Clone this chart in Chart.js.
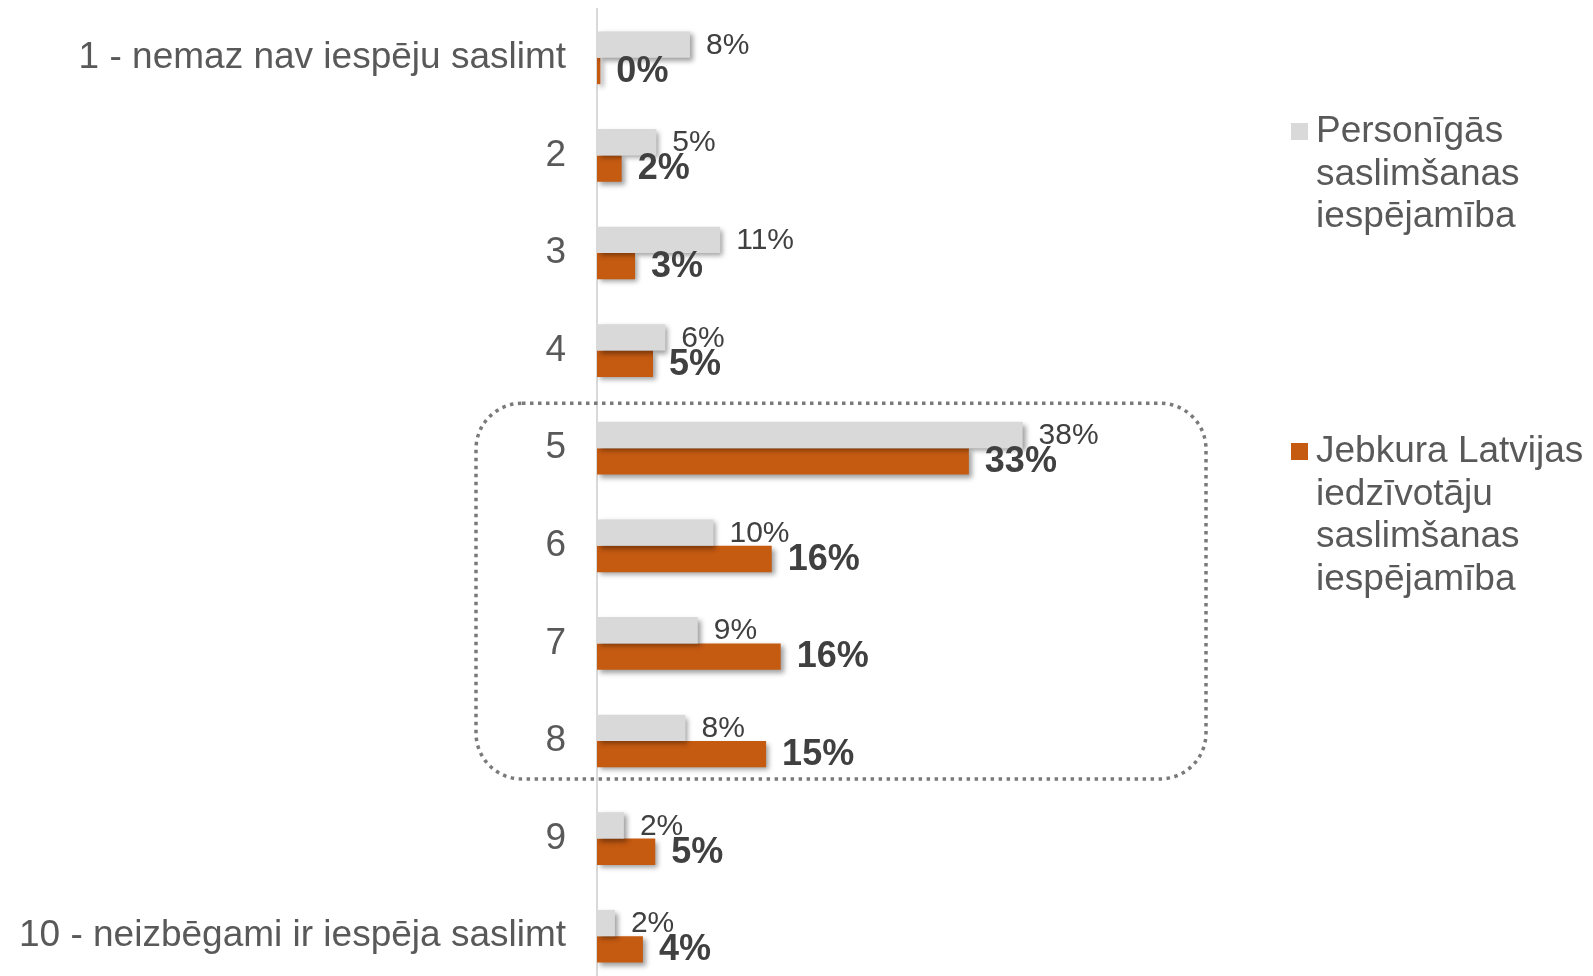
<!DOCTYPE html>
<html>
<head>
<meta charset="utf-8">
<script src="https://cdn.jsdelivr.net/npm/chart.js@4.4.1/dist/chart.umd.min.js"></script>
<style>
html,body{margin:0;padding:0;overflow:hidden;background:#ffffff;}
canvas{display:block;}
</style>
</head>
<body>
<canvas id="c" width="1593" height="990" style="width:1593px;height:990px"></canvas>
<script>
// ---------- data ----------
const categories = [
  '1 - nemaz nav iespēju saslimt', '2', '3', '4', '5', '6', '7', '8', '9',
  '10 - neizbēgami ir iespēja saslimt'
];
const personalValues   = [8.3, 5.3, 11.0, 6.1, 38.0, 10.4, 9.0, 7.9, 2.4, 1.6];
const populationValues = [0.3, 2.2, 3.4, 5.0, 33.2, 15.6, 16.4, 15.1, 5.2, 4.1];
const seriesNames = [
  'Personīgās saslimšanas iespējamība',
  'Jebkura Latvijas iedzīvotāju saslimšanas iespējamība'
];
const seriesColors = ['#d9d9d9', '#c55a11'];
const highlightFirst = 4;   // category "5"
const highlightLast  = 7;   // category "8"

// ---------- styling ----------
const FONT = '"Liberation Sans", Arial, Helvetica, sans-serif';
const AXIS_LEFT = 597;
const X_MAX = 55;
const PLOT_RIGHT = 1213;

const shadowPlugin = {
  id: 'barShadow',
  beforeDatasetsDraw(chart) {
    const c = chart.ctx;
    c.save();
    c.shadowColor = 'rgba(0,0,0,0.38)';
    c.shadowBlur = 5;
    c.shadowOffsetX = 3;
    c.shadowOffsetY = 3;
  },
  afterDatasetsDraw(chart) {
    chart.ctx.restore();
  }
};

function wrapText(c, text, maxW) {
  const words = text.split(' ');
  const lines = [];
  let cur = '';
  for (const w of words) {
    const t = cur ? cur + ' ' + w : w;
    if (c.measureText(t).width > maxW && cur) { lines.push(cur); cur = w; }
    else cur = t;
  }
  if (cur) lines.push(cur);
  return lines;
}

const decorPlugin = {
  id: 'decor',
  afterDraw(chart) {
    const c = chart.ctx;
    const xs = chart.scales.x, ys = chart.scales.y;

    // value labels
    chart.data.datasets.forEach((ds, di) => {
      const meta = chart.getDatasetMeta(di);
      c.save();
      c.fillStyle = '#404040';
      c.textAlign = 'left';
      c.textBaseline = 'middle';
      c.font = di === 0 ? ('30px ' + FONT) : ('bold 36px ' + FONT);
      meta.data.forEach((el, i) => {
        c.fillText(Math.round(ds.data[i]) + '%', el.x + 16, el.y + 1);
      });
      c.restore();
    });

    // dotted rounded highlight box
    const top = ys.getPixelForValue(highlightFirst) - 45;
    const bottom = ys.getPixelForValue(highlightLast) + 38;
    const left = xs.getPixelForValue(0) - 121;
    const right = xs.getPixelForValue(0) + 609;
    c.save();
    c.strokeStyle = '#7a7a7a';
    c.lineWidth = 3.5;
    c.setLineDash([3.5, 4.5]);
    c.beginPath();
    c.roundRect(left, top, right - left, bottom - top, 46);
    c.stroke();
    c.restore();

    // legend
    c.save();
    c.font = '37px ' + FONT;
    c.textAlign = 'left';
    c.textBaseline = 'middle';
    const legendTops = [132, 452];
    chart.data.datasets.forEach((ds, di) => {
      const lines = wrapText(c, ds.label, 275);
      const y0 = legendTops[di];
      c.fillStyle = ds.backgroundColor;
      c.fillRect(1291, y0 - 9, 17, 17);
      c.fillStyle = '#595959';
      lines.forEach((ln, k) => c.fillText(ln, 1316, y0 + k * 42.5));
    });
    c.restore();
  }
};

new Chart(document.getElementById('c').getContext('2d'), {
  type: 'bar',
  data: {
    labels: categories,
    datasets: [
      { label: seriesNames[0], data: personalValues, backgroundColor: seriesColors[0],
        categoryPercentage: 0.54, barPercentage: 1.0, borderWidth: 0 },
      { label: seriesNames[1], data: populationValues, backgroundColor: seriesColors[1],
        categoryPercentage: 0.54, barPercentage: 1.0, borderWidth: 0 }
    ]
  },
  options: {
    indexAxis: 'y',
    responsive: false,
    animation: false,
    layout: { padding: { left: 0, right: 1593 - PLOT_RIGHT, top: 9, bottom: 5 } },
    plugins: { legend: { display: false }, tooltip: { enabled: false } },
    scales: {
      x: { display: false, min: 0, max: X_MAX },
      y: {
        afterFit(s) { s.width = AXIS_LEFT; s.paddingTop = 0; s.paddingBottom = 0; },
        grid: { display: false, drawTicks: false, tickLength: 0 },
        border: { display: true, color: '#d9d9d9', width: 2 },
        ticks: { color: '#595959', padding: 31, font: { family: FONT, size: 37 } }
      }
    }
  },
  plugins: [shadowPlugin, decorPlugin]
});
</script>
</body>
</html>
